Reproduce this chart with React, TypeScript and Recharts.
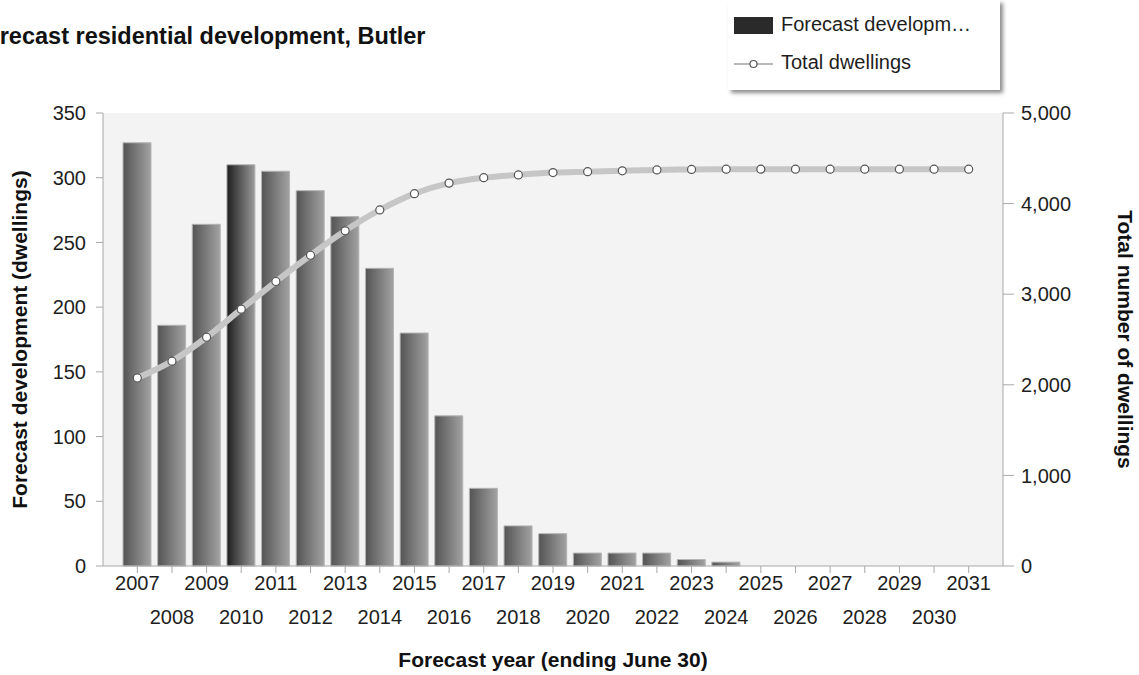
import {
  ComposedChart,
  Bar,
  Line,
  XAxis,
  YAxis,
  CartesianGrid,
  Cell,
} from "recharts";

const years = [
  "2007", "2008", "2009", "2010", "2011", "2012", "2013", "2014", "2015",
  "2016", "2017", "2018", "2019", "2020", "2021", "2022", "2023", "2024",
  "2025", "2026", "2027", "2028", "2029", "2030", "2031",
];

const forecastDevelopment = [
  327, 186, 264, 310, 305, 290, 270, 230, 180, 116, 60, 31, 25, 10, 10, 10, 5,
  3, 0, 0, 0, 0, 0, 0, 0,
];

const totalDwellings = [
  2075, 2261, 2525, 2835, 3140, 3430, 3700, 3930, 4110, 4226, 4286, 4317, 4342,
  4352, 4362, 4372, 4377, 4380, 4380, 4380, 4380, 4380, 4380, 4380, 4380,
];

const leftTicks = [0, 50, 100, 150, 200, 250, 300, 350];
const rightTicks = [0, 1000, 2000, 3000, 4000, 5000];
const highlightYear = "2010";

const data = years.map((year, i) => ({
  year,
  dev: forecastDevelopment[i],
  total: totalDwellings[i],
}));

const font = "'Liberation Sans', Arial, sans-serif";
const axisGrey = "#a8a8a8";
const textColor = "#1e1e1e";

const YearTick = (props: any) => {
  const { x, y, payload, index } = props;
  const lower = index % 2 === 1;
  return (
    <text
      x={x}
      y={y + (lower ? 49 : 15)}
      textAnchor="middle"
      fontSize={20}
      fontFamily={font}
      fill={textColor}
    >
      {payload.value}
    </text>
  );
};

const LegendBox = () => (
  <div
    style={{
      position: "absolute",
      left: 728,
      top: 0,
      width: 272,
      height: 90,
      background: "#fff",
      boxShadow: "3px 3px 4px rgba(0,0,0,0.45)",
      fontFamily: font,
      fontSize: 20,
      color: textColor,
    }}
  >
    <div
      style={{
        position: "absolute",
        left: 6,
        top: 17,
        width: 39,
        height: 17,
        background: "#2a2a2a",
      }}
    />
    <div style={{ position: "absolute", left: 53, top: 13, whiteSpace: "nowrap" }}>
      Forecast developm…
    </div>
    <svg
      style={{ position: "absolute", left: 6, top: 57 }}
      width={39}
      height={14}
    >
      <line x1={0} y1={7} x2={39} y2={7} stroke="#b8b8b8" strokeWidth={2} />
      <circle cx={19.5} cy={7} r={3.5} fill="#fff" stroke="#555" strokeWidth={1.2} />
    </svg>
    <div style={{ position: "absolute", left: 53, top: 51, whiteSpace: "nowrap" }}>
      Total dwellings
    </div>
  </div>
);

export default function App() {
  return (
    <div
      style={{
        position: "absolute",
        left: 0,
        top: 0,
        width: 1139,
        height: 675,
        overflow: "hidden",
        background: "#fff",
        fontFamily: font,
      }}
    >
      <div
        style={{
          position: "absolute",
          left: -29,
          top: 23,
          fontSize: 23.5,
          fontWeight: "bold",
          color: "#111",
          whiteSpace: "nowrap",
        }}
      >
        Forecast residential development, Butler
      </div>
      <ComposedChart
        width={1139}
        height={675}
        data={data}
        margin={{ top: 113, right: 76, bottom: 49, left: 43 }}
      >
        <defs>
          <linearGradient id="barGrad" x1="0" y1="0" x2="1" y2="0">
            <stop offset="0%" stopColor="#545454" />
            <stop offset="100%" stopColor="#a2a2a2" />
          </linearGradient>
          <linearGradient id="barGradHi" x1="0" y1="0" x2="1" y2="0">
            <stop offset="0%" stopColor="#1e1e1e" />
            <stop offset="100%" stopColor="#9a9a9a" />
          </linearGradient>
        </defs>
        <CartesianGrid fill="#f3f3f3" horizontal={false} vertical={false} />
        <XAxis
          dataKey="year"
          interval={0}
          padding={{ left: 17, right: 17 }}
          height={60}
          stroke={axisGrey}
          tickSize={7}
          tick={<YearTick />}
          label={{
            value: "Forecast year (ending June 30)",
            position: "center",
            dy: 64,
            fontSize: 21,
            fontWeight: "bold",
            fill: "#111",
            fontFamily: font,
          }}
        />
        <YAxis
          yAxisId="left"
          domain={[0, 350]}
          ticks={leftTicks}
          width={60}
          stroke={axisGrey}
          tickSize={7}
          tickMargin={10}
          tick={{ fontSize: 20, fill: textColor, fontFamily: font }}
          label={{
            value: "Forecast development (dwellings)",
            angle: -90,
            position: "center",
            dx: -53,
            fontSize: 21,
            fontWeight: "bold",
            fill: "#111",
            fontFamily: font,
          }}
        />
        <YAxis
          yAxisId="right"
          orientation="right"
          domain={[0, 5000]}
          ticks={rightTicks}
          width={60}
          stroke={axisGrey}
          tickSize={11}
          tickMargin={7}
          tickFormatter={(v: number) => v.toLocaleString("en-US")}
          tick={{ fontSize: 20, fill: textColor, fontFamily: font }}
          label={{
            value: "Total number of dwellings",
            angle: 90,
            position: "center",
            dx: 92,
            fontSize: 21,
            fontWeight: "bold",
            fill: "#111",
            fontFamily: font,
          }}
        />
        <Bar
          yAxisId="left"
          dataKey="dev"
          name="Forecast development"
          barSize={28}
          stroke="#b4b4b4"
          strokeWidth={1}
          isAnimationActive={false}
        >
          {data.map((d) => (
            <Cell
              key={d.year}
              fill={d.year === highlightYear ? "url(#barGradHi)" : "url(#barGrad)"}
            />
          ))}
        </Bar>
        <Line
          yAxisId="right"
          dataKey="total"
          name="Total dwellings"
          type="monotone"
          stroke="#c6c6c6"
          strokeWidth={6}
          dot={{ r: 4, fill: "#fff", stroke: "#555", strokeWidth: 1.2 }}
          activeDot={false}
          isAnimationActive={false}
        />
      </ComposedChart>
      <LegendBox />
    </div>
  );
}
